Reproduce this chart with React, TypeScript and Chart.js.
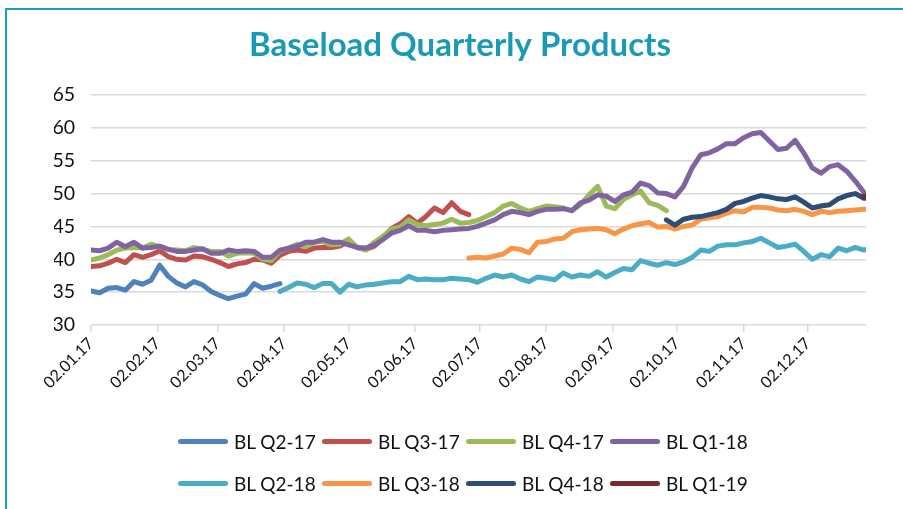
import React, { useEffect, useRef } from 'react';
import { Chart, registerables } from 'chart.js';

Chart.register(...registerables);

// Sample days (calendar days after 02.01.17)
const SAMPLE_DAYS = [
  0, 4, 8, 12, 16, 20, 24, 28, 32, 36, 40, 44, 48, 52, 56, 60, 64, 68, 72, 76, 80, 84, 88,
  92, 96, 100, 104, 108, 112, 116, 120, 124, 128, 132, 136, 140, 144, 148, 152, 156, 160, 164, 168, 172, 176, 180,
  184, 188, 192, 196, 200, 204, 208, 212, 216, 220, 224, 228, 232, 236, 240, 244, 248, 252, 256, 260, 264, 268,
  272, 276, 280, 284, 288, 292, 296, 300, 304, 308, 312, 316, 320, 324, 328, 332, 336, 340, 344, 348, 352, 356, 360, 361,
];

const TICK_DAYS = [0, 31, 59, 90, 120, 151, 181, 212, 243, 273, 304, 334];
const TICK_LABELS = [
  '02.01.17', '02.02.17', '02.03.17', '02.04.17', '02.05.17', '02.06.17',
  '02.07.17', '02.08.17', '02.09.17', '02.10.17', '02.11.17', '02.12.17',
];

const SERIES_NAMES = ['BL Q2-17', 'BL Q3-17', 'BL Q4-17', 'BL Q1-18', 'BL Q2-18', 'BL Q3-18', 'BL Q4-18', 'BL Q1-19'];
const SERIES_COLORS = ['#4F81BD', '#C0504D', '#9BBB59', '#8064A2', '#4BACC6', '#F79646', '#2C4D75', '#772C2A'];
const SERIES_START_DAYS = [0, 0, 0, 0, 88, 176, 268, 360];

const BL_Q2_17 = [35.2, 34.9, 35.6, 35.7, 35.3, 36.6, 36.2, 36.8, 39.1, 37.4, 36.4, 35.8, 36.6, 36.1, 35.1, 34.5, 34.0, 34.4, 34.7, 36.3, 35.6, 35.9, 36.3];

const BL_Q3_17 = [
  38.9, 39.0, 39.4, 40.0, 39.5, 40.7, 40.3, 40.7, 41.3, 40.4, 40.0, 39.9, 40.5, 40.4, 40.0, 39.5, 38.9, 39.3, 39.5, 40.0, 39.9, 39.4, 40.6,
  41.2, 41.4, 41.2, 41.7, 41.8, 41.8, 42.0, 42.7, 41.8, 41.5, 42.0, 43.2, 44.7, 45.4, 46.5, 45.5, 46.5, 47.8, 47.1, 48.6, 47.3, 46.8,
];

const BL_Q4_17 = [
  39.9, 40.2, 40.7, 41.4, 41.7, 41.8, 41.7, 42.3, 41.9, 41.5, 41.4, 41.3, 41.8, 41.5, 41.2, 41.2, 40.5, 40.9, 41.0, 40.9, 40.0, 39.8, 41.3,
  41.7, 42.3, 41.9, 42.6, 42.7, 42.2, 42.3, 43.1, 41.8, 41.4, 42.6, 43.5, 44.6, 44.9, 46.0, 45.3, 45.1, 45.3, 45.5, 46.1, 45.5, 45.6, 45.9,
  46.5, 47.1, 48.1, 48.5, 47.8, 47.3, 47.7, 48.1, 48.0, 47.8, 47.4, 48.3, 49.8, 51.1, 48.1, 47.7, 49.1, 49.8, 50.4, 48.6, 48.2, 47.4,
];

const BL_Q1_18 = [
  41.4, 41.3, 41.7, 42.6, 41.9, 42.6, 41.7, 41.8, 42.0, 41.5, 41.2, 41.2, 41.4, 41.6, 40.9, 40.9, 41.4, 41.2, 41.3, 41.2, 40.3, 40.3, 41.4,
  41.7, 42.0, 42.6, 42.6, 43.0, 42.6, 42.6, 42.2, 41.8, 41.7, 42.2, 43.0, 44.0, 44.4, 45.1, 44.4, 44.4, 44.2, 44.4, 44.5, 44.6, 44.7, 45.0,
  45.5, 46.0, 46.8, 47.3, 47.1, 46.8, 47.3, 47.6, 47.6, 47.7, 47.4, 48.6, 49.0, 49.8, 49.6, 48.8, 49.8, 50.2, 51.6, 51.2, 50.1, 50.0,
  49.5, 51.1, 53.9, 55.9, 56.2, 56.8, 57.6, 57.6, 58.5, 59.1, 59.3, 58.0, 56.7, 56.9, 58.1, 56.2, 53.9, 53.1, 54.1, 54.4, 53.4, 51.9, 50.2, 50.0,
];

const BL_Q2_18 = [
  35.1,
  35.7, 36.4, 36.2, 35.7, 36.3, 36.3, 35.0, 36.2, 35.8, 36.1, 36.2, 36.4, 36.6, 36.6, 37.4, 36.9, 37.0, 36.9, 36.9, 37.1, 37.0, 36.9, 36.5,
  37.1, 37.6, 37.3, 37.6, 37.0, 36.6, 37.3, 37.1, 36.9, 37.9, 37.3, 37.6, 37.4, 38.1, 37.3, 38.0, 38.6, 38.4, 39.8, 39.4, 39.1, 39.5,
  39.2, 39.6, 40.3, 41.4, 41.2, 42.0, 42.2, 42.2, 42.5, 42.7, 43.2, 42.5, 41.8, 42.0, 42.3, 41.2, 40.0, 40.7, 40.4, 41.7, 41.3, 41.8, 41.4, 41.5,
];

const BL_Q3_18 = [
  40.2, 40.3,
  40.2, 40.5, 40.8, 41.7, 41.5, 41.0, 42.6, 42.7, 43.1, 43.2, 44.2, 44.5, 44.6, 44.7, 44.5, 43.9, 44.6, 45.1, 45.4, 45.6, 44.9, 45.0,
  44.6, 45.0, 45.2, 46.1, 46.3, 46.5, 47.0, 47.4, 47.2, 47.9, 47.9, 47.8, 47.5, 47.4, 47.6, 47.3, 46.8, 47.3, 47.1, 47.3, 47.4, 47.5, 47.6, 47.6,
];

const BL_Q4_18 = [
  46.0,
  45.2, 46.1, 46.4, 46.5, 46.8, 47.1, 47.6, 48.5, 48.8, 49.3, 49.7, 49.5, 49.2, 49.1, 49.5, 48.7, 47.8, 48.1, 48.3, 49.2, 49.7, 50.0, 49.3, 49.3,
];

const BL_Q1_19 = [49.6, 49.6];

const SERIES_VALUES = [BL_Q2_17, BL_Q3_17, BL_Q4_17, BL_Q1_18, BL_Q2_18, BL_Q3_18, BL_Q4_18, BL_Q1_19];

const TITLE = 'Baseload Quarterly Products';

function buildPoints(values: number[], startDay: number) {
  const startIdx = SAMPLE_DAYS.indexOf(startDay);
  return SAMPLE_DAYS.map((day, i) => {
    const k = i - startIdx;
    const y = k >= 0 && k < values.length ? values[k] : null;
    return { x: day, y };
  });
}

const FONT = 'Lato, "Open Sans", sans-serif';

export default function App() {
  const canvasRef = useRef<HTMLCanvasElement | null>(null);

  useEffect(() => {
    const canvas = canvasRef.current;
    if (!canvas) return;
    const datasets = SERIES_NAMES.map((name, i) => ({
      label: name,
      data: buildPoints(SERIES_VALUES[i], SERIES_START_DAYS[i]),
      borderColor: SERIES_COLORS[i],
      backgroundColor: SERIES_COLORS[i],
      borderWidth: 5,
      pointRadius: 0,
      pointHoverRadius: 0,
      tension: 0,
      borderCapStyle: 'round' as const,
      borderJoinStyle: 'round' as const,
      spanGaps: false,
      order: SERIES_NAMES.length - i,
    }));

    const chart = new Chart(canvas, {
      type: 'line',
      data: { datasets },
      options: {
        animation: false,
        responsive: false,
        maintainAspectRatio: false,
        events: [],
        layout: { padding: { left: 54, right: 37, top: 0, bottom: 0 } },
        plugins: {
          legend: { display: false },
          tooltip: { enabled: false },
          title: {
            display: true,
            text: TITLE,
            color: '#1B9AB6',
            font: { family: FONT, size: 33, weight: 'bold', lineHeight: 1.2 },
            padding: { top: 26, bottom: 29.4 },
          },
        },
        scales: {
          x: {
            type: 'linear',
            min: 0,
            max: 361,
            afterBuildTicks: (scale: any) => {
              scale.ticks = TICK_DAYS.map((v) => ({ value: v }));
            },
            afterFit: (scale: any) => {
              scale.height = 184;
            },
            ticks: {
              autoSkip: false,
              minRotation: 45,
              maxRotation: 45,
              padding: 2,
              color: '#111111',
              font: { family: FONT, size: 16 },
              callback: (value: any) => {
                const idx = TICK_DAYS.indexOf(Number(value));
                return idx >= 0 ? TICK_LABELS[idx] : '';
              },
            },
            grid: {
              drawOnChartArea: false,
              drawTicks: true,
              tickLength: 7,
              color: '#d9d9d9',
              lineWidth: 1.5,
            },
            border: { display: false },
          },
          y: {
            min: 30,
            max: 65,
            afterFit: (scale: any) => {
              scale.width = 37;
            },
            ticks: {
              stepSize: 5,
              padding: 16,
              color: '#111111',
              font: { family: FONT, size: 19.5 },
            },
            grid: {
              color: '#d9d9d9',
              lineWidth: 1.5,
              drawTicks: false,
            },
            border: { display: false },
          },
        },
      },
    } as any);

    return () => {
      chart.destroy();
    };
  }, []);

  const rows = [SERIES_NAMES.slice(0, 4), SERIES_NAMES.slice(4, 8)];

  return (
    <div
      style={{
        position: 'fixed',
        left: 0,
        top: 0,
        width: 903,
        height: 509,
        overflow: 'hidden',
        background: '#ffffff',
      }}
    >
      <div
        style={{
          position: 'absolute',
          left: 5,
          top: 8,
          width: 1200,
          height: 800,
          borderTop: '2px solid #1AA0BD',
          borderLeft: '2px solid #1AA0BD',
        }}
      />
      <canvas
        ref={canvasRef}
        width={903}
        height={509}
        style={{ position: 'absolute', left: 0, top: 0, width: 903, height: 509 }}
      />
      {rows.map((row, r) =>
        row.map((name, c) => {
          const idx = r * 4 + c;
          return (
            <div
              key={name}
              style={{
                position: 'absolute',
                left: 178 + c * 144,
                top: (r === 0 ? 441 : 483) - 12,
                height: 24,
                display: 'flex',
                alignItems: 'center',
                fontFamily: FONT,
                fontSize: 19,
                color: '#111111',
                whiteSpace: 'nowrap',
              }}
            >
              <span
                style={{
                  display: 'inline-block',
                  width: 50,
                  height: 5,
                  borderRadius: 3,
                  background: SERIES_COLORS[idx],
                  marginRight: 6,
                }}
              />
              <span>{name}</span>
            </div>
          );
        })
      )}
    </div>
  );
}
